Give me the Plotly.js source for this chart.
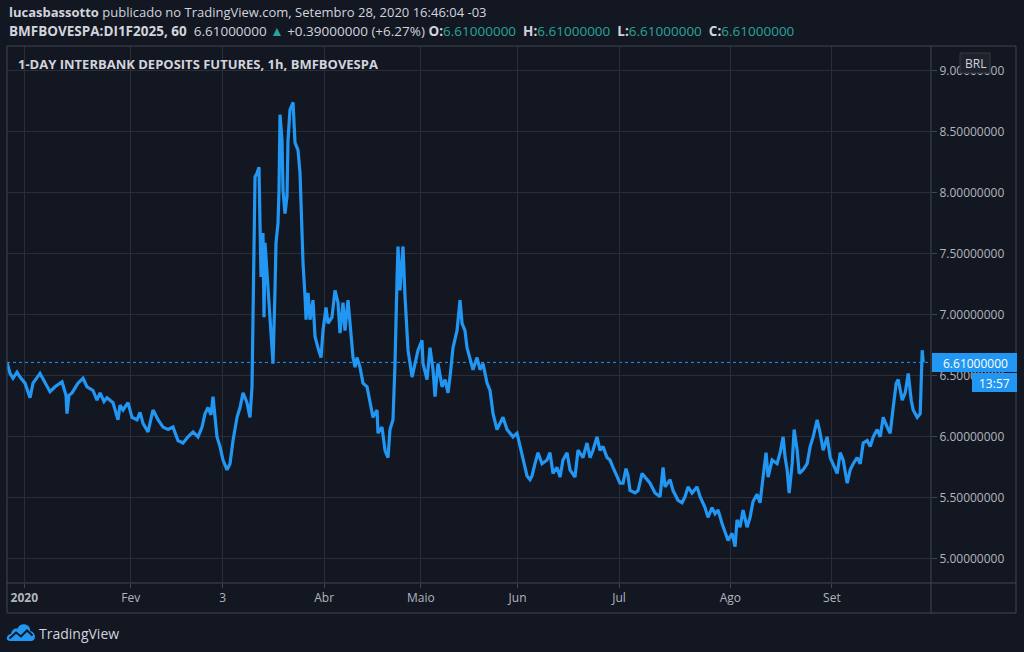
<!DOCTYPE html>
<html>
<head>
<meta charset="utf-8">
<script src="https://cdn.plot.ly/plotly-3.0.1.min.js"></script>
<style>
  html, body { margin: 0; padding: 0; background: #131722; overflow: hidden; }
  #chart { width: 1024px; height: 652px; }
  #logo { position: absolute; left: 6px; top: 623px; width: 30px; height: 20px; }
</style>
</head>
<body>
<div id="chart"></div>
<svg id="logo" viewBox="0 0 30 20">
  <path d="M4 18 C1 18 0 15 1.5 13 C2.5 11.5 4 11 5 11 C5.5 7 8.5 5 11.5 5.5 C13 2 16.5 0.5 19.5 1.5 C23 2.5 24.5 5.5 24 8 C27 8.5 29 11 29 14 C29 16.5 27 18 25 18 Z" fill="#2196f3"/>
  <polyline points="3.5,15.5 10,9.5 15,13.5 21,7.5 26.5,12.5" fill="none" stroke="#131722" stroke-width="2"/>
</svg>
<script>
// ---- DATA (x = trading days since 2 Jan 2020, y = rate) ----
const daysJanFeb = [-3.58,-2.96,-2.34,-1.51,-0.89,0.14,1.18,1.80,3.25,4.28,5.32,6.35,7.80,8.62,8.83,9.24,9.86,11.10,12.14,12.97,14.21,15.03,15.66,16.48,17.10,18.34,19.38,19.79,20.41,21.44,22.27,23.30,23.93,24.55,25.58,26.61,27.65,28.68,29.72,30.75,31.78,32.82,33.85,34.89,35.92,36.75,37.37,37.99,38.61,39.02,39.44,39.85,40.47];
const rateJanFeb = [6.61,6.52,6.48,6.53,6.49,6.44,6.32,6.44,6.52,6.44,6.37,6.41,6.45,6.34,6.19,6.34,6.36,6.44,6.48,6.41,6.38,6.30,6.36,6.29,6.32,6.28,6.14,6.26,6.22,6.28,6.16,6.14,6.20,6.11,6.04,6.22,6.14,6.08,6.06,6.08,5.97,5.95,6.00,6.04,6.00,6.08,6.19,6.24,6.18,6.33,6.19,6.00,5.92];

const daysMarApr = [41.09,41.92,42.54,43.16,43.99,44.61,45.23,46.05,46.67,47.09,47.29,47.50,47.71,48.12,48.53,48.74,48.95,49.36,49.57,49.78,50.19,50.40,51.02,51.43,51.84,52.05,52.46,52.67,52.88,53.29,53.50,53.91,54.32,54.53,54.94,55.57,55.98,56.60,57.02,57.43,57.64,58.05,58.26,58.67,59.08,59.70,60.12,60.73,61.36,61.77,62.39,62.80,63.63,64.25,64.87,65.29,65.91,66.32,66.94,67.36,67.98,68.39,68.80,69.42,70.04,70.87,71.49,72.11,72.94,73.14,73.97,74.59,75.21,75.62,76.24,76.66,77.07,77.28,77.69,78.10,78.31,78.73,79.14,79.35,80.18,80.80,81.42];
const rateMarApr = [5.81,5.73,5.78,5.97,6.16,6.24,6.36,6.28,6.16,6.41,6.93,7.42,8.13,8.16,8.21,7.75,7.31,7.67,6.98,7.59,7.34,7.15,6.82,6.60,7.20,7.59,7.75,8.02,8.64,8.43,8.02,7.83,7.97,8.43,8.68,8.74,8.41,8.35,8.16,7.56,7.42,7.15,6.96,7.18,6.96,7.12,6.82,6.73,6.65,6.87,7.06,6.93,6.98,7.20,7.10,6.85,7.10,6.87,7.12,6.93,6.65,6.57,6.65,6.57,6.44,6.41,6.28,6.16,6.22,6.03,6.08,5.89,5.83,6.06,6.14,6.60,7.28,7.56,7.20,7.42,7.56,7.15,6.87,6.71,6.49,6.60,6.71];

const daysMayJun = [82.24,82.45,83.28,83.90,84.52,84.93,85.55,86.38,87.00,87.62,88.03,88.65,89.48,90.10,90.52,91.13,91.55,92.17,92.79,93.62,94.24,94.86,95.69,96.31,96.93,97.75,98.37,98.99,99.82,100.44,101.06,101.89,102.51,103.13,103.96,104.58,104.99,105.61,106.23,107.06,108.09,108.71,109.33,110.16,110.78,111.40,112.23,112.85,113.88,114.50,115.54,116.37,116.99,117.61,118.43,119.05,119.67,120.50,121.12,121.74,122.57];
const rateMayJun = [6.79,6.60,6.47,6.73,6.55,6.33,6.60,6.41,6.47,6.36,6.49,6.73,6.87,7.12,6.93,6.87,6.73,6.65,6.55,6.65,6.55,6.60,6.44,6.38,6.19,6.06,6.11,6.16,6.06,6.03,6.00,6.03,5.93,5.82,5.68,5.65,5.68,5.78,5.87,5.78,5.81,5.87,5.70,5.75,5.67,5.81,5.87,5.73,5.67,5.89,5.83,5.95,5.83,5.89,6.00,5.89,5.92,5.83,5.81,5.75,5.67];

const daysJulSep = [123.19,123.81,124.43,124.85,125.26,126.30,126.92,127.75,128.37,129.40,130.43,131.47,132.09,132.50,133.54,134.16,135.19,136.02,136.64,137.26,138.08,139.12,139.74,140.77,141.39,142.22,142.84,143.46,144.29,144.91,145.53,146.36,146.98,147.39,148.01,148.63,149.46,150.08,150.70,151.53,152.15,152.77,153.39,153.81,154.64,155.67,156.30,156.92,157.33,157.75,158.17,158.79,159.20,159.82,160.24,161.06,161.89,162.51,163.13,163.96,164.58,165.20,166.03,166.65,167.27,168.10,168.72,169.34,170.17,170.79,171.41,172.24,172.86,173.48,174.31,174.93,175.55,176.38,177.00,177.62,178.44,179.06,179.68,180.31,180.72,181.55,182.17,182.79,183.41,183.82,184.65,185.27,185.68,185.89];
const rateJulSep = [5.62,5.62,5.74,5.68,5.56,5.54,5.56,5.70,5.67,5.62,5.54,5.51,5.75,5.59,5.65,5.56,5.48,5.46,5.51,5.59,5.54,5.59,5.51,5.42,5.34,5.42,5.37,5.40,5.29,5.21,5.15,5.21,5.10,5.32,5.26,5.40,5.26,5.34,5.47,5.53,5.46,5.67,5.87,5.67,5.81,5.78,5.87,6.00,5.83,5.73,5.54,5.78,6.06,5.89,5.70,5.73,5.78,5.92,6.00,6.14,6.03,5.89,6.00,5.83,5.78,5.70,5.87,5.81,5.62,5.73,5.78,5.83,5.78,5.95,5.97,5.92,6.00,6.06,6.00,6.16,6.08,6.03,6.24,6.44,6.47,6.30,6.36,6.52,6.30,6.22,6.16,6.19,6.71,6.61];

const monthTickDays = [0, 22, 41, 62, 82, 102, 123, 146, 167];
const monthTickText = ['<b>2020</b>', 'Fev', '3', 'Abr', 'Maio', 'Jun', 'Jul', 'Ago', 'Set'];
const priceTicks = [5.0, 5.5, 6.0, 6.5, 7.0, 7.5, 8.0, 8.5, 9.0];

const lastPrice = 6.61;
const change = 0.39;
const changePct = 6.27;
const countdown = '13:57';

// ---- LAYOUT HELPERS (pixel -> paper, decoration only) ----
const W = 1024, H = 652, L = 7, R = 931, T = 46, B = 583;
const pxX = p => (p - L) / (R - L);
const pxY = p => (B - p) / (B - T);

const days = [].concat(daysJanFeb, daysMarApr, daysMayJun, daysJulSep);
const rates = [].concat(rateJanFeb, rateMarApr, rateMayJun, rateJulSep);

const blue = '#2196f3';
const teal = '#26a69a';
const txt = '#d1d4dc';
const axTxt = '#b2b5be';
const grid = '#2a2e39';
const frame = '#434651';
const f8 = v => v.toFixed(8);
const sp = '\u00a0';

const trace = {
  x: days, y: rates, type: 'scatter', mode: 'lines',
  line: { color: blue, width: 3.2, shape: 'linear' },
  hoverinfo: 'skip'
};

const header1 = '<b>lucasbassotto</b> publicado no TradingView.com, Setembro 28, 2020 16:46:04 -03';
const tv = s => '<span style="color:' + teal + '">' + s + '</span>';
const header2 = '<b>BMFBOVESPA:DI1F2025, 60</b>' + sp + sp + f8(lastPrice) + ' ' + tv('▲') + ' +' + f8(change) +
  ' (+' + changePct.toFixed(2) + '%)' + sp + '<b>O:</b>' + tv(f8(lastPrice)) + sp + ' <b>H:</b>' + tv(f8(lastPrice)) +
  sp + ' <b>L:</b>' + tv(f8(lastPrice)) + sp + ' <b>C:</b>' + tv(f8(lastPrice));

const layout = {
  width: W, height: H,
  margin: { l: L, r: W - R, t: T, b: H - B, pad: 0 },
  paper_bgcolor: '#131722', plot_bgcolor: '#131722',
  font: { family: 'Open Sans, sans-serif', color: txt, size: 12 },
  showlegend: false,
  xaxis: {
    range: [-3.58, 187.5], showgrid: true, gridcolor: grid, gridwidth: 1,
    zeroline: false, showline: false,
    tickmode: 'array', tickvals: monthTickDays, ticktext: monthTickText,
    ticks: 'outside', ticklen: 4, tickcolor: frame,
    tickfont: { family: 'Open Sans, sans-serif', size: 12, color: axTxt }
  },
  yaxis: {
    side: 'right', range: [4.8025, 9.2025], showgrid: true, gridcolor: grid, gridwidth: 1,
    zeroline: false, showline: false,
    tickmode: 'array', tickvals: priceTicks, ticktext: priceTicks.map(f8),
    ticks: 'outside', ticklen: 5, tickcolor: frame,
    tickfont: { family: 'Open Sans, sans-serif', size: 12, color: axTxt }
  },
  shapes: [
    { type: 'line', xref: 'paper', yref: 'y', x0: 0, x1: 1, y0: lastPrice, y1: lastPrice,
      line: { color: blue, width: 1, dash: 'dot' }, layer: 'below' },
    { type: 'rect', xref: 'paper', yref: 'paper', x0: pxX(7), x1: pxX(1016), y0: pxY(613), y1: pxY(46),
      line: { color: frame, width: 1 } },
    { type: 'line', xref: 'paper', yref: 'paper', x0: 1, x1: 1, y0: pxY(613), y1: pxY(46),
      line: { color: frame, width: 1 } },
    { type: 'line', xref: 'paper', yref: 'paper', x0: pxX(7), x1: pxX(1016), y0: 0, y1: 0,
      line: { color: frame, width: 1 } },
    { type: 'rect', xref: 'paper', yref: 'paper', x0: pxX(932), x1: pxX(1017), y0: pxY(372), y1: pxY(353),
      fillcolor: blue, line: { width: 0 }, layer: 'above' },
    { type: 'rect', xref: 'paper', yref: 'paper', x0: pxX(972), x1: pxX(1017), y0: pxY(392), y1: pxY(373),
      fillcolor: blue, line: { width: 0 }, layer: 'above' },
    { type: 'rect', xref: 'paper', yref: 'paper', x0: pxX(960), x1: pxX(990), y0: pxY(73), y1: pxY(53),
      fillcolor: '#1e222d', line: { color: '#363a45', width: 1 }, layer: 'above' }
  ],
  annotations: [
    { xref: 'paper', yref: 'paper', x: pxX(7), y: pxY(12), xanchor: 'left', yanchor: 'middle', showarrow: false,
      text: header1, font: { size: 13, color: txt } },
    { xref: 'paper', yref: 'paper', x: pxX(7), y: pxY(31), xanchor: 'left', yanchor: 'middle', showarrow: false,
      text: header2, font: { size: 13.5, color: txt } },
    { xref: 'paper', yref: 'paper', x: pxX(16), y: pxY(64), xanchor: 'left', yanchor: 'middle', showarrow: false,
      text: '<b>1-DAY INTERBANK DEPOSITS FUTURES, 1h, BMFBOVESPA</b>', font: { size: 13, color: txt } },
    { xref: 'paper', yref: 'paper', x: pxX(975), y: pxY(363), xanchor: 'center', yanchor: 'middle', showarrow: false,
      text: f8(lastPrice), font: { size: 12, color: '#ffffff' } },
    { xref: 'paper', yref: 'paper', x: pxX(994.5), y: pxY(383), xanchor: 'center', yanchor: 'middle', showarrow: false,
      text: countdown, font: { size: 12, color: '#ffffff' } },
    { xref: 'paper', yref: 'paper', x: pxX(975), y: pxY(63), xanchor: 'center', yanchor: 'middle', showarrow: false,
      text: 'BRL', font: { size: 12, color: txt } },
    { xref: 'paper', yref: 'paper', x: pxX(37), y: pxY(633), xanchor: 'left', yanchor: 'middle', showarrow: false,
      text: 'TradingView', font: { size: 14, color: txt } }
  ]
};

Plotly.newPlot('chart', [trace], layout, { staticPlot: true, displayModeBar: false });
</script>
</body>
</html>
